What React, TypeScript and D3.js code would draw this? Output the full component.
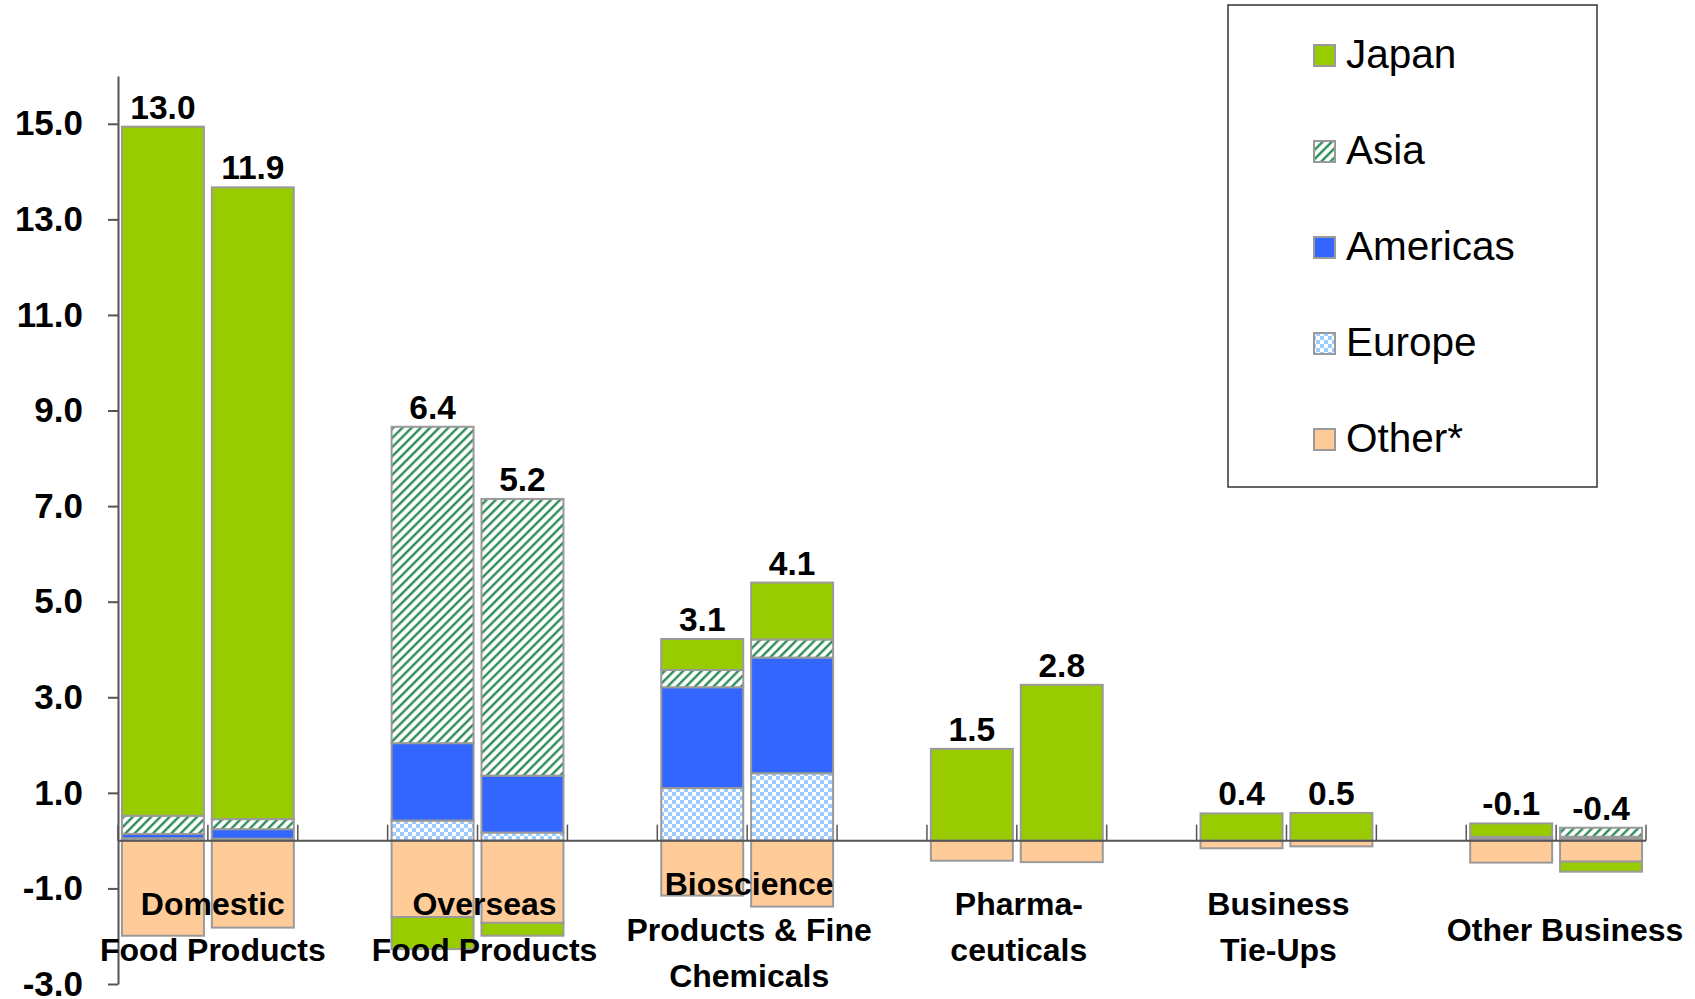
import React, { useEffect, useRef } from "react";
import * as d3 from "d3";

const categories = [
  "Domestic Food Products",
  "Overseas Food Products",
  "Bioscience Products & Fine Chemicals",
  "Pharmaceuticals",
  "Business Tie-Ups",
  "Other Business",
];
const categoryLines = [
  ["Domestic", "Food Products"],
  ["Overseas", "Food Products"],
  ["Bioscience", "Products & Fine", "Chemicals"],
  ["Pharma-", "ceuticals"],
  ["Business", "Tie-Ups"],
  ["Other Business"],
];
const periods = ["Previous", "Current"];

// values per bar: [cat0-prev, cat0-curr, cat1-prev, ...]
const japan = [14.42, 13.22, -0.67, -0.27, 0.65, 1.19, 1.92, 3.26, 0.57, 0.58, 0.28, -0.21];
const asia = [0.38, 0.21, 6.62, 5.79, 0.36, 0.38, 0, 0, 0, 0, 0.02, 0.19];
const americas = [0.09, 0.2, 1.62, 1.19, 2.11, 2.42, 0, 0, 0, 0, 0.03, 0.04];
const europe = [0.05, 0.04, 0.42, 0.17, 1.1, 1.41, 0, 0, 0, 0, 0.03, 0.04];
const other = [-1.99, -1.82, -1.6, -1.72, -1.15, -1.38, -0.42, -0.45, -0.16, -0.12, -0.46, -0.44];
const totals = ["13.0", "11.9", "6.4", "5.2", "3.1", "4.1", "1.5", "2.8", "0.4", "0.5", "-0.1", "-0.4"];

const yTicks = [-3, -1, 1, 3, 5, 7, 9, 11, 13, 15];

const legendItems = ["Japan", "Asia", "Americas", "Europe", "Other*"];
const stackKeys = ["Europe", "Americas", "Asia", "Other", "Japan"];

const fills: Record<string, string> = {
  Japan: "#99CC00",
  Asia: "url(#hatchAsia)",
  Americas: "#3366FF",
  Europe: "url(#checkEurope)",
  Other: "#FFCC99",
};
const legendKey = ["Japan", "Asia", "Americas", "Europe", "Other"];
const labelDx = [5, 7, 2, 2, -8, 9];

const FONT = "'Liberation Sans', Arial, Helvetica, sans-serif";

export default function App() {
  const axisRef = useRef<SVGGElement>(null);
  const W = 1695;
  const H = 999;

  const x0 = d3.scaleBand<string>().domain(categories).range([118, 1646]).paddingInner(1 / 3).paddingOuter(0);
  const x1 = d3.scaleBand<string>().domain(periods).range([0, x0.bandwidth()]).paddingInner(0.088).paddingOuter(0.044);
  const y = d3.scaleLinear().domain([-3, 16]).range([984, 76]);

  const rows = categories.flatMap((c, i) =>
    periods.map((p, j) => {
      const k = i * 2 + j;
      return {
        cat: c,
        period: p,
        idx: k,
        Japan: japan[k],
        Asia: asia[k],
        Americas: americas[k],
        Europe: europe[k],
        Other: other[k],
      } as any;
    })
  );

  const stacked = d3.stack<any>().keys(stackKeys).offset(d3.stackOffsetDiverging)(rows);

  useEffect(() => {
    if (!axisRef.current) return;
    const g = d3.select(axisRef.current);
    g.selectAll("*").remove();
    const fmt = d3.format(".1f");
    g.call(
      d3
        .axisLeft(y)
        .tickValues(yTicks)
        .tickFormat(((d: number) => fmt(d).replace("\u2212", "-")) as any)
        .tickSize(10)
        .tickSizeOuter(0)
        .tickPadding(25)
    );
    g.selectAll("path.domain").attr("stroke", "#555").attr("stroke-width", 2);
    g.selectAll(".tick line").attr("stroke", "#555").attr("stroke-width", 2);
    g.selectAll(".tick text")
      .attr("fill", "#000")
      .attr("font-family", FONT)
      .attr("font-weight", "bold")
      .attr("font-size", 35);
  }, []);

  const ticks: number[] = [];
  categories.forEach((c) => {
    for (let k = 0; k <= 2; k++) ticks.push((x0(c) as number) + k * x1.step());
  });

  return (
    <svg width={W} height={H} style={{ position: "absolute", left: 0, top: 0, background: "#fff" }}>
      <defs>
        <pattern id="hatchAsia" patternUnits="userSpaceOnUse" width={6.5} height={6.5} patternTransform="rotate(45)">
          <rect width={6.5} height={6.5} fill="#fff" />
          <line x1={2} y1={0} x2={2} y2={6.5} stroke="#2E8B57" strokeWidth={2.4} />
        </pattern>
        <pattern id="checkEurope" patternUnits="userSpaceOnUse" width={8} height={8}>
          <rect width={8} height={8} fill="#fff" />
          <rect x={0} y={0} width={4} height={4} fill="#9CCBFF" />
          <rect x={4} y={4} width={4} height={4} fill="#9CCBFF" />
        </pattern>
      </defs>

      {/* bars */}
      {stacked.map((layer) => (
        <g key={layer.key}>
          {layer.map((d, i) => {
            const v = (d.data as any)[layer.key];
            if (!v) return null;
            const row = d.data as any;
            const bx = (x0(row.cat) as number) + (x1(row.period) as number);
            const y0 = y(Math.max(d[0], d[1]));
            const y1v = y(Math.min(d[0], d[1]));
            return (
              <rect
                key={i}
                x={bx}
                y={y0}
                width={x1.bandwidth()}
                height={Math.max(0.5, y1v - y0)}
                fill={fills[layer.key]}
                stroke="#9a9a9a"
                strokeWidth={2}
              />
            );
          })}
        </g>
      ))}

      {/* zero line and category ticks */}
      <line x1={118} x2={1646} y1={y(0)} y2={y(0)} stroke="#555" strokeWidth={2} />
      {ticks.map((t, i) => (
        <line key={i} x1={t} x2={t} y1={y(0)} y2={y(0) - 16} stroke="#555" strokeWidth={1.5} />
      ))}

      {/* y axis */}
      <g ref={axisRef} transform="translate(118,0)" />

      {/* total labels */}
      {rows.map((r: any) => {
        const pos = stackKeys.reduce((s, k) => s + (r[k] > 0 ? r[k] : 0), 0);
        const cx = (x0(r.cat) as number) + (x1(r.period) as number) + x1.bandwidth() / 2;
        return (
          <text
            key={r.idx}
            x={cx}
            y={y(pos) - 8}
            textAnchor="middle"
            fontFamily={FONT}
            fontWeight="bold"
            fontSize={33.5}
            fill="#000"
          >
            {totals[r.idx]}
          </text>
        );
      })}

      {/* category labels */}
      {categories.map((c, i) => {
        const lines = categoryLines[i];
        const cx = (x0(c) as number) + x0.bandwidth() / 2 + labelDx[i];
        const lh = 46;
        const center = lines.length % 2 === 1 ? 941 : 938;
        const start = center - ((lines.length - 1) * lh) / 2;
        return (
          <text key={c} textAnchor="middle" fontFamily={FONT} fontWeight="bold" fontSize={32} fill="#000">
            {lines.map((l, j) => (
              <tspan key={j} x={cx} y={start + j * lh}>
                {l}
              </tspan>
            ))}
          </text>
        );
      })}

      {/* legend */}
      <rect x={1228} y={5} width={369} height={482} fill="#fff" stroke="#333" strokeWidth={1.5} />
      {legendItems.map((name, i) => {
        const cy = 55.5 + i * 96;
        return (
          <g key={name}>
            <rect x={1314} y={cy - 10.5} width={21} height={21} fill={fills[legendKey[i]]} stroke="#9a9a9a" strokeWidth={2} />
            <text x={1346} y={cy + 12} fontFamily={FONT} fontSize={40.5} fill="#000">
              {name}
            </text>
          </g>
        );
      })}
    </svg>
  );
}
